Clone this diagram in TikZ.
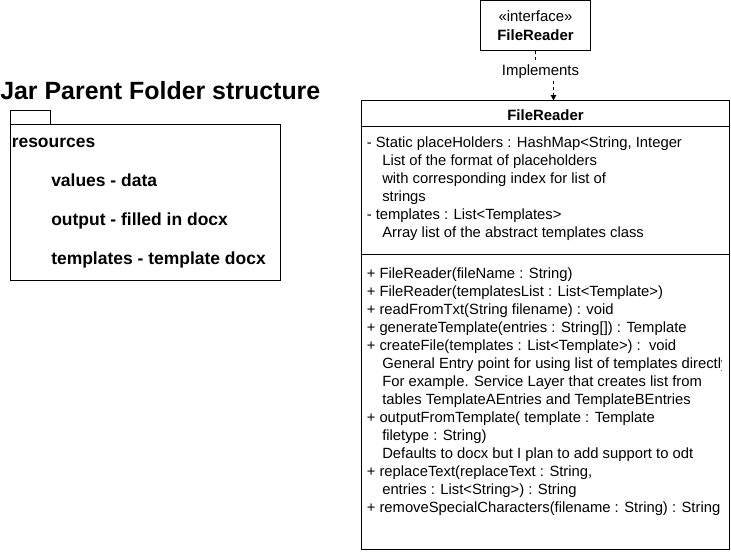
\documentclass[tikz,border=0pt]{standalone}
\usepackage{fontspec}
\setmainfont{Liberation Sans}
\usetikzlibrary{arrows.meta}
\tikzset{
	umltext/.style={anchor=base west, inner sep=0pt, font=\fontsize{11.1}{13.3}\selectfont},
	foldertext/.style={anchor=base west, inner sep=0pt, font=\fontsize{13.1}{15.7}\selectfont\bfseries},
	implarrow/.style={line width=0.75pt, dash pattern=on 2.25pt off 2.25pt}
}

\begin{document}
\begin{tikzpicture}[x=0.75pt, y=-0.75pt]
		%%%%% START %%%%%
		\useasboundingbox (0, 0) rectangle (731, 554);
		
		% folder on the left
		\node[anchor=base west, inner sep=0pt, font=\fontsize{18.7}{22.4}\selectfont\bfseries] (title) at (0, 99) {Jar Parent Folder structure};
		\draw[line width=0.75pt] (10.5, 110.5) rectangle (50.5, 124.5);
		\draw[line width=0.75pt] (10.5, 124.5) rectangle (280.5, 280.5);
		\node[foldertext] (res) at (11.5, 147.5) {resources};
		\node[foldertext] (values) at (51, 186.5) {values - data};
		\node[foldertext] (output) at (51, 225) {output - filled in docx};
		\node[foldertext] (templ) at (51, 264) {templates - template docx};
		
		% interface
		\draw[line width=0.75pt] (480.5, 0.5) rectangle (590.5, 50.5);
		\node[anchor=base, inner sep=0pt, font=\fontsize{11.2}{13.4}\selectfont] (stereo) at (535.5, 21.5) {«interface»};
		\node[anchor=base, inner sep=0pt, font=\fontsize{11.2}{13.4}\selectfont\bfseries] (iname) at (535.5, 40) {FileReader};
		\coordinate (ifacebot) at (535.5, 50.5);
		
		% class box
		\draw[line width=0.75pt] (361.5, 100.5) rectangle (729.5, 549.5);
		\draw[line width=0.75pt] (361.5, 126.5) -- (729.5, 126.5);
		\draw[line width=0.75pt] (361.5, 254) -- (729.5, 254);
		\coordinate (clstop) at (553.5, 100.5);
		\node[anchor=base, inner sep=0pt, font=\fontsize{11.2}{13.4}\selectfont\bfseries] (cname) at (545.5, 120.5) {FileReader};
		
		% implements connector
		\node[inner sep=1.5pt, font=\fontsize{11.2}{13.4}\selectfont] (impl) at (540.5, 71.5) {Implements};
		\draw[implarrow] (ifacebot) -- (ifacebot |- impl.north);
		\draw[implarrow, -{Triangle[length=4pt, width=4pt]}] (clstop |- impl.south) -- (clstop);
		
		% attributes
		\node[umltext] (attr1) at (366.5, 147) {- Static placeHolders : HashMap<String, Integer};
		\node[umltext] (attr2) at (382, 165) {List of the format of placeholders};
		\node[umltext] (attr3) at (382, 183) {with corresponding index for list of};
		\node[umltext] (attr4) at (382, 201) {strings};
		\node[umltext] (attr5) at (366.5, 219) {- templates : List<Templates>};
		\node[umltext] (attr6) at (382, 237) {Array list of the abstract templates class};
		
		% methods
		\begin{scope}
			\clip (362, 255) rectangle (721, 549);
			\node[umltext] (meth1) at (366.5, 278.5) {+ FileReader(fileName : String)};
			\node[umltext] (meth2) at (366.5, 296.5) {+ FileReader(templatesList : List<Template>)};
			\node[umltext] (meth3) at (366.5, 314.5) {+ readFromTxt(String filename) : void};
			\node[umltext] (meth4) at (366.5, 332.5) {+ generateTemplate(entries : String[]) : Template};
			\node[umltext] (meth5) at (366.5, 350.5) {+ createFile(templates : List<Template>) :\ \ void};
			\node[umltext] (meth6) at (382, 368.5) {General Entry point for using list of templates directly};
			\node[umltext] (meth7) at (382, 386.5) {For example. Service Layer that creates list from};
			\node[umltext] (meth8) at (382, 404.5) {tables TemplateAEntries and TemplateBEntries};
			\node[umltext] (meth9) at (366.5, 422.5) {+ outputFromTemplate( template : Template};
			\node[umltext] (meth10) at (382, 440.5) {filetype : String)};
			\node[umltext] (meth11) at (382, 458.5) {Defaults to docx but I plan to add support to odt};
			\node[umltext] (meth12) at (366.5, 476.5) {+ replaceText(replaceText : String,};
			\node[umltext] (meth13) at (382, 494.5) {entries : List<String>) : String};
		\end{scope}
		\node[umltext] (meth14) at (366.5, 512.5) {+ removeSpecialCharacters(filename : String) : String};
		
		%%%%% END %%%%%
	\end{tikzpicture}
\end{document}
